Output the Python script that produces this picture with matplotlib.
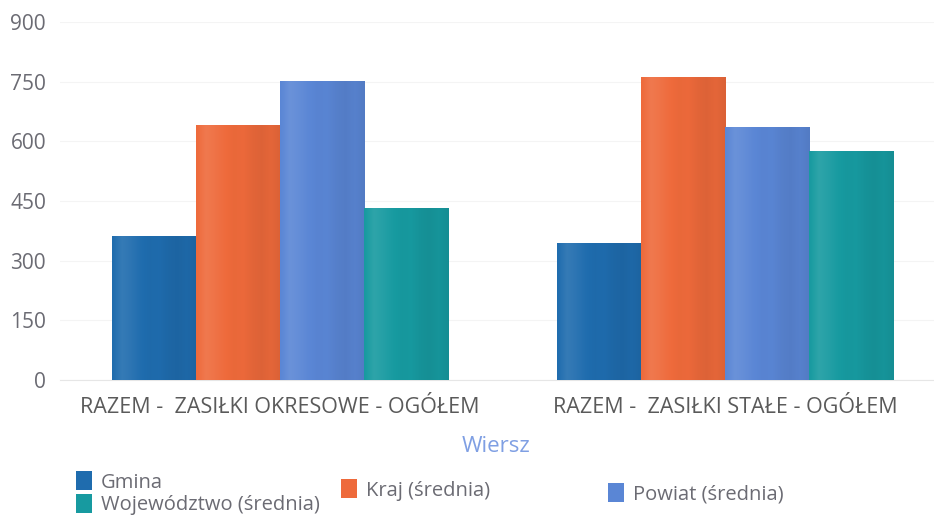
import matplotlib
matplotlib.use("Agg")
import matplotlib.pyplot as plt
import matplotlib.colors as mcolors
import numpy as np

categories = ["RAZEM -  ZASIŁKI OKRESOWE - OGÓŁEM", "RAZEM -  ZASIŁKI STAŁE - OGÓŁEM"]
series_names = ["Gmina", "Kraj (średnia)", "Powiat (średnia)", "Województwo (średnia)"]
gmina = [362, 345]
kraj = [640, 762]
powiat = [752, 635]
wojewodztwo = [432, 575]
yticks = [0, 150, 300, 450, 600, 750, 900]
colors = ["#1f6cae", "#ee6a3b", "#5a86d5", "#179aa0"]

plt.rcParams['font.family'] = ['Open Sans', 'DejaVu Sans']

fig = plt.figure(figsize=(9.34, 5.24), dpi=100)
ax = fig.add_axes([60/934, 1-380/524, 874/934, (380-22)/524])

x = np.arange(len(categories))
w = 0.189
series = [gmina, kraj, powiat, wojewodztwo]
handles = []
# shading profile across bar width (subtle cylinder look)
prof = np.array([0.0, 0.10, 0.06, 0.01, -0.02, -0.01, -0.05, -0.07, -0.04, -0.08])
for i, (vals, c, name) in enumerate(zip(series, colors, series_names)):
    b = ax.bar(x + (i - 1.5) * w, vals, w, color=c, label=name, zorder=3)
    handles.append(b)
    base = np.array(mcolors.to_rgb(c))
    px = np.linspace(0, 1, 60)
    shade = np.interp(px, np.linspace(0, 1, len(prof)), prof)
    img = np.empty((1, len(px), 3))
    for k, s in enumerate(shade):
        if s >= 0:
            img[0, k] = base + (1 - base) * s
        else:
            img[0, k] = base * (1 + s)
    for rect in b.patches:
        x0, y0 = rect.get_x(), rect.get_y()
        im = ax.imshow(img, extent=(x0, x0 + rect.get_width(), y0, y0 + rect.get_height()),
                       aspect="auto", interpolation="bicubic", zorder=4)
        im.set_clip_path(rect)

ax.set_xlim(-0.494, 1.47)
ax.set_ylim(0, 900)
ax.set_yticks(yticks)
ax.set_yticklabels([str(v) for v in yticks], fontsize=15, color="#6b6b73")
ax.set_xticks(x)
ax.set_xticklabels(categories, fontsize=15.5, color="#5a5a5a")
ax.tick_params(axis='both', length=0)
ax.tick_params(axis='x', pad=12)
ax.tick_params(axis='y', pad=10)
for s in ["top", "right", "left"]:
    ax.spines[s].set_visible(False)
ax.spines["bottom"].set_color("#e6e6e6")
ax.yaxis.grid(True, color="#f4f4f4", linewidth=0.8, zorder=0)

fig.text(496/934, 1-447/524, "Wiersz", ha="center", va="center", fontsize=16, color="#7f9fe3")

leg_kw = dict(frameon=False, fontsize=14.5, labelcolor="#6b6b73", handlelength=0.8,
              handleheight=1.1, handletextpad=0.45, labelspacing=0.05, borderaxespad=0, borderpad=0)
l1 = fig.legend([handles[0], handles[3]], [series_names[0], series_names[3]],
                loc="upper left", bbox_to_anchor=(76/934, 1-471/524), **leg_kw)
l2 = fig.legend([handles[1]], [series_names[1]],
                loc="upper left", bbox_to_anchor=(341/934, 1-479/524), **leg_kw)
l3 = fig.legend([handles[2]], [series_names[2]],
                loc="upper left", bbox_to_anchor=(608/934, 1-483/524), **leg_kw)

fig.savefig("out.png", dpi=100)
